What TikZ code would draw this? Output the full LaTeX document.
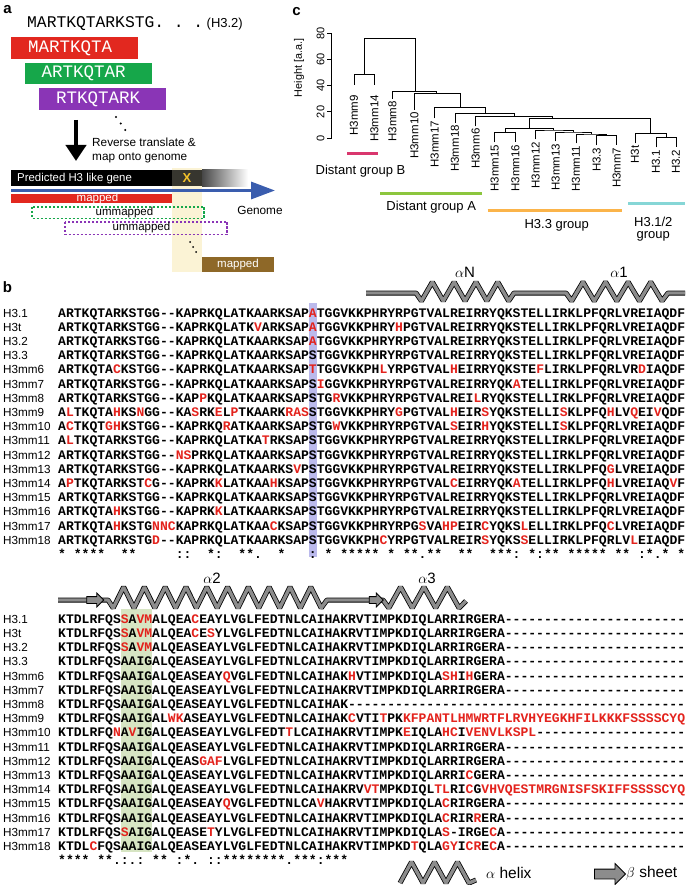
\documentclass[tikz,border=0pt]{standalone}
\usepackage{fontspec}
\setmainfont{Liberation Sans}
\setmonofont{Liberation Mono}
\usetikzlibrary{arrows.meta,shapes.arrows,positioning}

\definecolor{mutred}{HTML}{E3221C}
\definecolor{boxred}{HTML}{E2281F}
\definecolor{boxgreen}{HTML}{16A74A}
\definecolor{boxpurple}{HTML}{8A35B6}
\definecolor{genomeblue}{HTML}{3A5DAE}
\definecolor{mapbrown}{HTML}{8E6828}
\definecolor{bandyellow}{HTML}{FBF3D5}
\definecolor{xyellow}{HTML}{F3C22A}
\definecolor{ribbongray}{HTML}{8C8C8C}
\definecolor{colpurple}{HTML}{BBBAEC}
\definecolor{colgreen}{HTML}{D7E5C3}
\definecolor{grpB}{HTML}{D9376E}
\definecolor{grpA}{HTML}{8CC63E}
\definecolor{grpC}{HTML}{FBB44A}
\definecolor{grpD}{HTML}{86D6D6}

\newcommand\mut[1]{\textcolor{mutred}{#1}}
\newcommand\seqgap[1]{\foreach\gi in {1,...,#1}{-}}

\tikzset{
  panel/.style={inner sep=0pt,font=\fontsize{15}{17}\bfseries},
  seq/.style={anchor=base west,inner sep=0pt,font=\fontsize{13.06}{14}\ttfamily\bfseries},
  rowname/.style={anchor=base west,inner sep=0pt,font=\fontsize{11.7}{13}\selectfont},
  pep/.style={anchor=north west,minimum height=20.5pt,inner xsep=17pt,text width=93pt,
    text=white,font=\fontsize{17.5}{19}\ttfamily},
  barlbl/.style={inner sep=0pt,font=\fontsize{11.5}{13}\selectfont},
  ribbon/.style={draw=black,line width=0.8pt,double=ribbongray,double distance=3.4pt,line join=bevel},
  sheet/.style={single arrow,draw=black,line width=0.8pt,fill=ribbongray,inner xsep=0pt,
    inner ysep=3pt,single arrow head extend=3.5pt,minimum height=17pt},
  sslbl/.style={inner sep=0pt,font=\fontsize{15}{17}\selectfont},
  dendro/.style={line width=0.8pt},
  leaf/.style={rotate=90,anchor=east,inner sep=0pt,font=\fontsize{11.5}{13}\selectfont},
  grpbar/.style={line width=3pt},
  grplbl/.style={inner sep=0pt,align=center,font=\fontsize{13}{12.6}\selectfont}
}

\begin{document}
\begin{tikzpicture}[x=1pt,y=-1pt]
\useasboundingbox (0,0) rectangle (685,885);

% ---- a: peptides mapped onto the genome
\node[panel] (pa) at (7.5,9.5) {a};
\node[anchor=base west,inner sep=0pt,font=\fontsize{16.3}{18}\ttfamily] (query) at (27,27.5) {MARTKQTARKSTG.~.~.};
\node[anchor=base west,inner sep=0pt,font=\fontsize{13}{15}\selectfont] (qtag) at ([xshift=3pt]query.base east) {(H3.2)};
\node[pep,fill=boxred] (pep1) at (11,37) {MARTKQTA};
\node[pep,fill=boxgreen] (pep2) at (24.5,62.5) {ARTKQTAR};
\node[pep,fill=boxpurple] (pep3) at (39,88) {RTKQTARK};
\fill (116,117) circle (1.1);
\fill (120.7,123.5) circle (1.1);
\fill (125.3,130) circle (1.1);
\coordinate (dn0) at (76,120);
\coordinate (dn1) at (76,161);
\draw[line width=4pt,-{Triangle[width=20pt,length=16pt]}] (dn0) -- (dn1);
\node[anchor=base west,inner sep=0pt,font=\fontsize{11.8}{13}\selectfont] (rev1) at (92,147) {Reverse translate \&};
\node[anchor=base west,inner sep=0pt,font=\fontsize{11.8}{13}\selectfont] (rev2) at (92,161) {map onto genome};

\fill[bandyellow] (172,168) rectangle (202,272);
\fill[black] (11,170) rectangle (172,186.5);
\fill[black!78!bandyellow] (172,170) rectangle (202,186.5);
\shade[left color=black!72,right color=white] (202,170) rectangle (248,186.5);
\node[anchor=base west,inner sep=0pt,text=white,font=\fontsize{11.4}{13}\selectfont] (gene) at (17,182) {Predicted H3 like gene};
\node[inner sep=0pt,text=xyellow,font=\fontsize{13}{15}\bfseries] (xmark) at (187,178) {X};
\coordinate (g0) at (11,190.5);
\coordinate (g1) at (275,190.5);
\draw[genomeblue,line width=3.2pt,-{Triangle[width=17pt,length=24pt]}] (g0) -- (g1);
\node[inner sep=0pt,font=\fontsize{11.8}{13}\selectfont] (genome) at (260,210.5) {Genome};

\fill[boxred] (11,194) rectangle (172,203.5);
\node[barlbl,text=white] (map1) at (97.5,198.5) {mapped};
\draw[boxgreen,line width=1.1pt,dash pattern=on 2.5pt off 1.5pt] (32,207) rectangle (204,218.5);
\node[barlbl] (unm1) at (124.5,212.5) {ummapped};
\draw[boxpurple,line width=1.1pt,dash pattern=on 2.5pt off 1.5pt] (65,222) rectangle (227,234.5);
\node[barlbl] (unm2) at (141.5,228) {ummapped};
\fill (190,242) circle (1);
\fill (193,247) circle (1);
\fill (196,252) circle (1);
\fill[mapbrown] (202,257) rectangle (274,271.5);
\node[barlbl,text=white] (map2) at (238,264.5) {mapped};

% ---- c: dendrogram
\node[panel] (pc) at (296.5,11.5) {c};
\draw[dendro] (331.5,33.6) -- (331.5,138);
\foreach \h in {0,20,...,80}{
  \draw[dendro] (331.5,138-1.305*\h) -- (327,138-1.305*\h);
  \node[rotate=90,inner sep=0pt,font=\fontsize{11}{13}\selectfont] at (320.5,138-1.305*\h) {\h};
}
\node[rotate=90,inner sep=0pt,font=\fontsize{10.8}{13}\selectfont] (hgt) at (299,68) {Height [a.a.]};

\coordinate (l9) at (354,85);
\coordinate (l14) at (374.3,85);
\coordinate (l8) at (392.3,99);
\coordinate (l10) at (414.3,110);
\coordinate (l17) at (434.7,118.5);
\coordinate (l18) at (455,123);
\coordinate (l6) at (475.7,126.3);
\coordinate (l15) at (494.7,142.5);
\coordinate (l16) at (515.3,142.5);
\coordinate (l12) at (535.7,139.5);
\coordinate (l13) at (555.7,141.5);
\coordinate (l11) at (576,143.5);
\coordinate (l33) at (596.7,145.5);
\coordinate (l7) at (616.7,145.5);
\coordinate (lt) at (635,143.5);
\coordinate (l31) at (656,147.5);
\coordinate (l32) at (676,147.5);

\coordinate (n0) at (389.7,38.7);
\coordinate (n1) at (364.2,74.7);
\coordinate (nA) at (415.3,91.3);
\coordinate (nB) at (436.7,93.7);
\coordinate (nC) at (460,107.3);
\coordinate (nD) at (485,113.3);
\coordinate (nE) at (514,116.3);
\coordinate (nF) at (552.3,118.7);
\coordinate (nG) at (529.3,128.7);
\coordinate (nI) at (505,132.7);
\coordinate (nJ) at (553.3,130);
\coordinate (nK) at (573.3,132);
\coordinate (nL) at (591,134);
\coordinate (nM) at (606.7,135.7);
\coordinate (nH) at (650.5,133.3);
\coordinate (nN) at (666,137.3);

\draw[dendro] (l9) |- (n1) -| (l14);
\draw[dendro] (n1) |- (n0) -| (nA);
\draw[dendro] (l8) |- (nA) -| (nB);
\draw[dendro] (l10) |- (nB) -| (nC);
\draw[dendro] (l17) |- (nC) -| (nD);
\draw[dendro] (l18) |- (nD) -| (nE);
\draw[dendro] (l6) |- (nE) -| (nF);
\draw[dendro] (nG) |- (nF) -| (nH);
\draw[dendro] (nI) |- (nG) -| (nJ);
\draw[dendro] (l15) |- (nI) -| (l16);
\draw[dendro] (l12) |- (nJ) -| (nK);
\draw[dendro] (l13) |- (nK) -| (nL);
\draw[dendro] (l11) |- (nL) -| (nM);
\draw[dendro] (l33) |- (nM) -| (l7);
\draw[dendro] (lt) |- (nH) -| (nN);
\draw[dendro] (l31) |- (nN) -| (l32);

\node[leaf] (t9) at (354,95) {H3mm9};
\node[leaf] (t14) at (374.3,95) {H3mm14};
\node[leaf] (t8) at (392.3,101) {H3mm8};
\node[leaf] (t10) at (414.3,112) {H3mm10};
\node[leaf] (t17) at (434.7,120.5) {H3mm17};
\node[leaf] (t18) at (455,125) {H3mm18};
\node[leaf] (t6) at (475.7,128.3) {H3mm6};
\node[leaf] (t15) at (494.7,144.5) {H3mm15};
\node[leaf] (t16) at (515.3,144.5) {H3mm16};
\node[leaf] (t12) at (535.7,141.5) {H3mm12};
\node[leaf] (t13) at (555.7,143.5) {H3mm13};
\node[leaf] (t11) at (576,145.5) {H3mm11};
\node[leaf] (t33) at (596.7,147.5) {H3.3};
\node[leaf] (t7) at (616.7,147.5) {H3mm7};
\node[leaf] (tt) at (635,145.5) {H3t};
\node[leaf] (t31) at (656,149.5) {H3.1};
\node[leaf] (t32) at (676,149.5) {H3.2};

\draw[grpB,grpbar] (347.3,153.3) -- (378.3,153.3);
\node[grplbl] (gB) at (360.5,170.7) {Distant group B};
\draw[grpA,grpbar] (380,193.3) -- (482.3,193.3);
\node[grplbl] (gA) at (431.2,206.7) {Distant group A};
\draw[grpC,grpbar] (487.7,210.7) -- (622.3,210.7);
\node[grplbl] (gC) at (556.7,225) {H3.3 group};
\draw[grpD,grpbar] (628.3,204) -- (685,204);
\node[grplbl] (gD) at (653.3,229) {H3.1/2\\group};

% ---- b: alignment, N-terminal half
\node[panel] (pb) at (7.5,287) {b};
\fill[colpurple] (308.9,303) rectangle (316.7,557);
\draw[ribbon] (366,293) -- (416,293) -- (421.45,301)
  foreach \k in {1,...,4} { -- ++(10.9,-19) -- ++(10.9,19) } -- (514,293) -- (566,293) -- (571.65,301)
  foreach \k in {1,...,4} { -- ++(11.3,-19) -- ++(11.3,19) } -- (668,293) -- (685,293);
\node[sslbl] (aN) at (465,272) {$\alpha$N};
\node[sslbl] (a1) at (619,272) {$\alpha$1};

\node[rowname] (na1) at (3,317) {H3.1};
\node[seq] (sa1) at (58,317) {ARTKQTARKSTGG--KAPRKQLATKAARKSAP\mut{A}TGGVKKPHRYRPGTVALREIRRYQKSTELLIRKLPFQRLVREIAQDF};
\node[rowname] (na2) at (3,331.2) {H3t};
\node[seq] (sa2) at (58,331.2) {ARTKQTARKSTGG--KAPRKQLATK\mut{V}ARKSAP\mut{A}TGGVKKPHRY\mut{H}PGTVALREIRRYQKSTELLIRKLPFQRLVREIAQDF};
\node[rowname] (na3) at (3,345.4) {H3.2};
\node[seq] (sa3) at (58,345.4) {ARTKQTARKSTGG--KAPRKQLATKAARKSAP\mut{A}TGGVKKPHRYRPGTVALREIRRYQKSTELLIRKLPFQRLVREIAQDF};
\node[rowname] (na4) at (3,359.6) {H3.3};
\node[seq] (sa4) at (58,359.6) {ARTKQTARKSTGG--KAPRKQLATKAARKSAPSTGGVKKPHRYRPGTVALREIRRYQKSTELLIRKLPFQRLVREIAQDF};
\node[rowname] (na5) at (3,373.8) {H3mm6};
\node[seq] (sa5) at (58,373.8) {ARTKQTA\mut{C}KSTGG--KAPRKQLATKAARKSAP\mut{T}TGGVKKPH\mut{L}YRPGTVAL\mut{H}EIRRYQKSTE\mut{F}LIRKLPFQRLVR\mut{D}IAQDF};
\node[rowname] (na6) at (3,388) {H3mm7};
\node[seq] (sa6) at (58,388) {ARTKQTARKSTGG--KAPRKQLATKAARKSAPS\mut{I}GGVKKPHRYRPGTVALREIRRYQK\mut{A}TELLIRKLPFQRLVREIAQDF};
\node[rowname] (na7) at (3,402.2) {H3mm8};
\node[seq] (sa7) at (58,402.2) {ARTKQTARKSTGG--KAP\mut{P}KQLATKAARKSAPSTG\mut{R}VKKPHRYRPGTVALREI\mut{L}RYQKSTELLIRKLPFQRLVREIAQDF};
\node[rowname] (na8) at (3,416.4) {H3mm9};
\node[seq] (sa8) at (58,416.4) {A\mut{L}TKQTA\mut{H}KS\mut{N}GG--KA\mut{S}RK\mut{E}L\mut{P}TKAARK\mut{RAS}STGGVKKPHRY\mut{G}PGTVAL\mut{H}EIR\mut{S}YQKSTELLI\mut{S}KLPFQ\mut{H}LV\mut{Q}EI\mut{V}QDF};
\node[rowname] (na9) at (3,430.6) {H3mm10};
\node[seq] (sa9) at (58,430.6) {A\mut{C}TKQT\mut{GH}KSTGG--KAPRKQ\mut{R}ATKAARKSAPSTG\mut{W}VKKPHRYRPGTVAL\mut{S}EIR\mut{H}YQKSTELLI\mut{S}KLPFQRLVREIAQDF};
\node[rowname] (na10) at (3,444.8) {H3mm11};
\node[seq] (sa10) at (58,444.8) {A\mut{L}TKQTARKSTGG--KAPRKQLATKA\mut{T}RKSAPSTGGVKKPHRYRPGTVALREIRRYQKSTELLIRKLPFQRLVREIAQDF};
\node[rowname] (na11) at (3,459) {H3mm12};
\node[seq] (sa11) at (58,459) {ARTKQTARKSTGG--\mut{NS}PRKQLATKAARKSAPSTGGVKKPHRYRPGTVALREIRRYQKSTELLIRKLPFQRLVREIAQDF};
\node[rowname] (na12) at (3,473.2) {H3mm13};
\node[seq] (sa12) at (58,473.2) {ARTKQTARKSTGG--KAPRKQLATKAARKS\mut{V}PSTGGVKKPHRYRPGTVALREIRRYQKSTELLIRKLPFQ\mut{G}LVREIAQDF};
\node[rowname] (na13) at (3,487.4) {H3mm14};
\node[seq] (sa13) at (58,487.4) {A\mut{P}TKQTARKST\mut{C}G--KAPRK\mut{K}LATKAA\mut{H}KSAPSTGGVKKPHRYRPGTVAL\mut{C}EIRRYQK\mut{A}TELLIRKLPFQ\mut{H}LVREIAQ\mut{V}F};
\node[rowname] (na14) at (3,501.6) {H3mm15};
\node[seq] (sa14) at (58,501.6) {ARTKQTARKSTGG--KAPRKQLATKAARKSAPSTGGVKKPHRYRPGTVALREIRRYQKSTELLIRKLPFQRLVREIAQDF};
\node[rowname] (na15) at (3,515.8) {H3mm16};
\node[seq] (sa15) at (58,515.8) {ARTKQTA\mut{H}KSTGG--KAPRK\mut{K}LATKAARKSAPSTGGVKKPHRYRPGTVALREIRRYQKSTELLIRKLPFQRLVREIAQDF};
\node[rowname] (na16) at (3,530) {H3mm17};
\node[seq] (sa16) at (58,530) {ARTKQTA\mut{H}KSTG\mut{NNC}KAPRKQLATKAA\mut{C}KSAPSTGGVKKPHRYRPG\mut{S}VA\mut{HP}EIR\mut{C}YQKS\mut{L}ELLIRKLPFQ\mut{C}LVREIAQDF};
\node[rowname] (na17) at (3,544.2) {H3mm18};
\node[seq] (sa17) at (58,544.2) {ARTKQTARKSTG\mut{D}--KAPRKQLATKAARKSAPSTGGVKKPH\mut{C}YRPGTVALREIR\mut{S}YQKS\mut{S}ELLIRKLPFQRLV\mut{L}EIAQDF};
\node[seq] (consa) at (58,558.4) {*~****~~**~~~~~::~~*:~~**.~~*~~~:~*~*****~*~**.**~~**~~***:~*:**~*****~**~:*.*~*};

% ---- b: alignment, C-terminal half
\fill[colgreen] (120.7,609) rectangle (152.1,852);
\draw[ribbon] (58,600) -- (108,600) -- (113.2,608)
  foreach \k in {1,...,10} { -- ++(10.4,-21) -- ++(10.4,21) } -- (327,600) -- (383,600) -- (388.85,608)
  foreach \k in {1,...,3} { -- ++(11.7,-21) -- ++(11.7,21) } -- (466,601);
\node[sheet] (beta1) at (93.5,600) {};
\node[sheet,minimum height=14pt] (beta2) at (374.5,600) {};
\node[sslbl] (a2) at (212,578) {$\alpha$2};
\node[sslbl] (a3) at (427,578) {$\alpha$3};

\node[rowname] (nb1) at (3,623.3) {H3.1};
\node[seq] (sb1) at (58,623.3) {KTDLRFQS\mut{S}A\mut{VM}ALQEA\mut{C}EAYLVGLFEDTNLCAIHAKRVTIMPKDIQLARRIRGERA\seqgap{23}};
\node[rowname] (nb2) at (3,637.5) {H3t};
\node[seq] (sb2) at (58,637.5) {KTDLRFQS\mut{S}A\mut{VM}ALQEA\mut{C}E\mut{S}YLVGLFEDTNLCAIHAKRVTIMPKDIQLARRIRGERA\seqgap{23}};
\node[rowname] (nb3) at (3,651.7) {H3.2};
\node[seq] (sb3) at (58,651.7) {KTDLRFQS\mut{S}A\mut{VM}ALQEASEAYLVGLFEDTNLCAIHAKRVTIMPKDIQLARRIRGERA\seqgap{23}};
\node[rowname] (nb4) at (3,665.9) {H3.3};
\node[seq] (sb4) at (58,665.9) {KTDLRFQSAAIGALQEASEAYLVGLFEDTNLCAIHAKRVTIMPKDIQLARRIRGERA\seqgap{23}};
\node[rowname] (nb5) at (3,680.1) {H3mm6};
\node[seq] (sb5) at (58,680.1) {KTDLRFQSAAIGALQEASEAY\mut{Q}VGLFEDTNLCAIHAK\mut{H}VTIMPKDIQLA\mut{SH}I\mut{H}GERA\seqgap{23}};
\node[rowname] (nb6) at (3,694.3) {H3mm7};
\node[seq] (sb6) at (58,694.3) {KTDLRFQSAAIGALQEASEAYLVGLFEDTNLCAIHAKRVTIMPKDIQLARRIRGERA\seqgap{23}};
\node[rowname] (nb7) at (3,708.5) {H3mm8};
\node[seq] (sb7) at (58,708.5) {KTDLRFQSAAIGALQEASEAYLVGLFEDTNLCAIHAK\seqgap{43}};
\node[rowname] (nb8) at (3,722.7) {H3mm9};
\node[seq] (sb8) at (58,722.7) {KTDLRFQSAAIGAL\mut{WK}ASEAYLVGLFEDTNLCAIHAK\mut{C}VTI\mut{T}PK\mut{KFPANTLHMWRTFLRVHYEGKHFILKKKFSSSSCYQ}};
\node[rowname] (nb9) at (3,736.9) {H3mm10};
\node[seq] (sb9) at (58,736.9) {KTDLRFQ\mut{N}A\mut{V}IGALQEASEAYLVGLFEDT\mut{T}LCAIHAKRVTIMPK\mut{E}IQLA\mut{HC}I\mut{VENVLKSPL}\seqgap{19}};
\node[rowname] (nb10) at (3,751.1) {H3mm11};
\node[seq] (sb10) at (58,751.1) {KTDLRFQSAAIGALQEASEAYLVGLFEDTNLCAIHAKRVTIMPKDIQLARRIRGERA\seqgap{23}};
\node[rowname] (nb11) at (3,765.3) {H3mm12};
\node[seq] (sb11) at (58,765.3) {KTDLRFQSAAIGALQEAS\mut{GAF}LVGLFEDTNLCAIHAKRVTIMPKDIQLARRIRGERA\seqgap{23}};
\node[rowname] (nb12) at (3,779.5) {H3mm13};
\node[seq] (sb12) at (58,779.5) {KTDLRFQSAAIGALQEASEAYLVGLFEDTNLCAIHAKRVTIMPKDIQLARRI\mut{C}GERA\seqgap{23}};
\node[rowname] (nb13) at (3,793.7) {H3mm14};
\node[seq] (sb13) at (58,793.7) {KTDLRFQSAAIGALQEASEAYLVGLFEDTNLCAIHAKRV\mut{VT}MPKDIQL\mut{TL}RI\mut{C}G\mut{VHVQESTMRGNISFSKIFFSSSSCYQ}};
\node[rowname] (nb14) at (3,807.9) {H3mm15};
\node[seq] (sb14) at (58,807.9) {KTDLRFQSAAIGALQEASEAY\mut{Q}VGLFEDTNLCA\mut{V}HAKRVTIMPKDIQLA\mut{C}RIRGERA\seqgap{23}};
\node[rowname] (nb15) at (3,822.1) {H3mm16};
\node[seq] (sb15) at (58,822.1) {KTDLRFQSAAIGALQEASEAYLVGLFEDTNLCAIHAKRVTIMPKDIQLA\mut{C}RIR\mut{R}ERA\seqgap{23}};
\node[rowname] (nb16) at (3,836.3) {H3mm17};
\node[seq] (sb16) at (58,836.3) {KTDLRFQS\mut{S}AIGALQEASE\mut{T}YLVGLFEDTNLCAIHAKRVTIMPKDIQLA\mut{S}-IRGE\mut{C}A\seqgap{23}};
\node[rowname] (nb17) at (3,850.5) {H3mm18};
\node[seq] (sb17) at (58,850.5) {KTDL\mut{C}FQSAAIGALQEASEAYLVGLFEDTNLCAIHAKRVTIMPKD\mut{T}QLA\mut{GY}I\mut{CR}E\mut{C}A\seqgap{23}};
\node[seq] (consb) at (58,864.7) {****~**.:.:~**~:*.~::********.***:***};

% legend
\draw[ribbon] (400,883) foreach \k in {1,...,3} { -- ++(11.5,-21) -- ++(11.5,21) } -- (476,880);
\node[anchor=west,inner sep=0pt,font=\fontsize{15.5}{17}\selectfont] (hleg) at (486,873) {$\alpha$ helix};
\node[sheet,inner ysep=4.5pt,single arrow head extend=5.5pt,minimum height=31pt] (sleg) at (607.5,874) {};
\node[anchor=west,inner sep=0pt,font=\fontsize{15.5}{17}\selectfont] (sheetleg) at (626,873) {$\beta$ sheet};
\end{tikzpicture}
\end{document}
